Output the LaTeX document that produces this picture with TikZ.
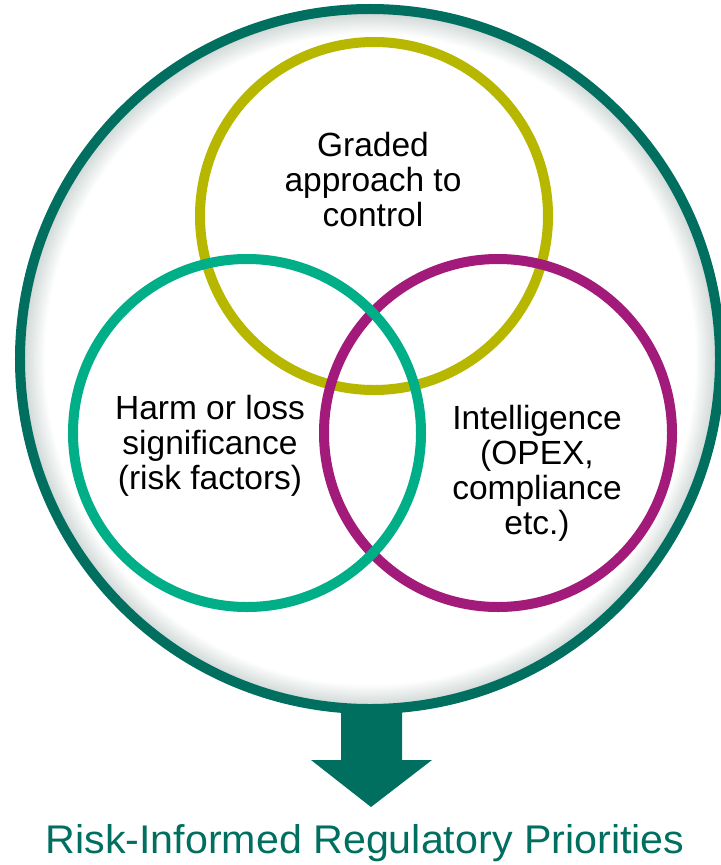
\documentclass[tikz,border=0pt]{standalone}
\usepackage{fontspec}
\setmainfont{Liberation Sans}
\definecolor{dkgreen}{RGB}{0,111,95}
\definecolor{olivec}{RGB}{183,183,0}
\definecolor{tealc}{RGB}{0,174,136}
\definecolor{magc}{RGB}{162,27,122}
\definecolor{rimgray}{RGB}{200,210,208}
\pgfdeclareradialshading{rimshade}{\pgfpoint{0bp}{0bp}}{color(0bp)=(white); color(23.2bp)=(white); color(25bp)=(rimgray); color(50bp)=(rimgray)}
\tikzset{
  ring/.style={circle, draw=#1, line width=10bp, minimum size=348bp, inner sep=0pt},
  lbl/.style={align=center, font=\fontsize{33.5bp}{35bp}\selectfont, text=black, inner sep=0pt},
}
\begin{document}
\begin{tikzpicture}[x=1bp,y=-1bp]
\useasboundingbox (0,0) rectangle (721,865);
\node[circle, minimum size=700bp, inner sep=0pt, shading=rimshade, draw=dkgreen, line width=10bp] (outer) at (370,359) {};
\coordinate (tip) at (371,807);
\fill[dkgreen] (tip) -- ++(61,-47) -- ++(-30,0) -- ++(0,-52) -- ++(-61,0) -- ++(0,52) -- ++(-30,0) -- cycle;
\node[ring=olivec] (grade) at (374,216) {};
\node[ring=magc] (intel) at (498,433) {};
\node[ring=tealc] (harm) at (247,433) {};
\node[lbl] (gradet) at (373,180) {Graded\\approach to\\control};
\node[lbl] (harmt) at (210,446) {Harm or loss\\significance\\(risk factors)};
\node[lbl] (intelt) at (537,473) {Intelligence\\(OPEX,\\compliance\\etc.)};
\node[font=\fontsize{40bp}{42bp}\selectfont, text=dkgreen, inner sep=0pt, xscale=1.03] (result) at (365,843) {Risk-Informed Regulatory Priorities};
\end{tikzpicture}
\end{document}
